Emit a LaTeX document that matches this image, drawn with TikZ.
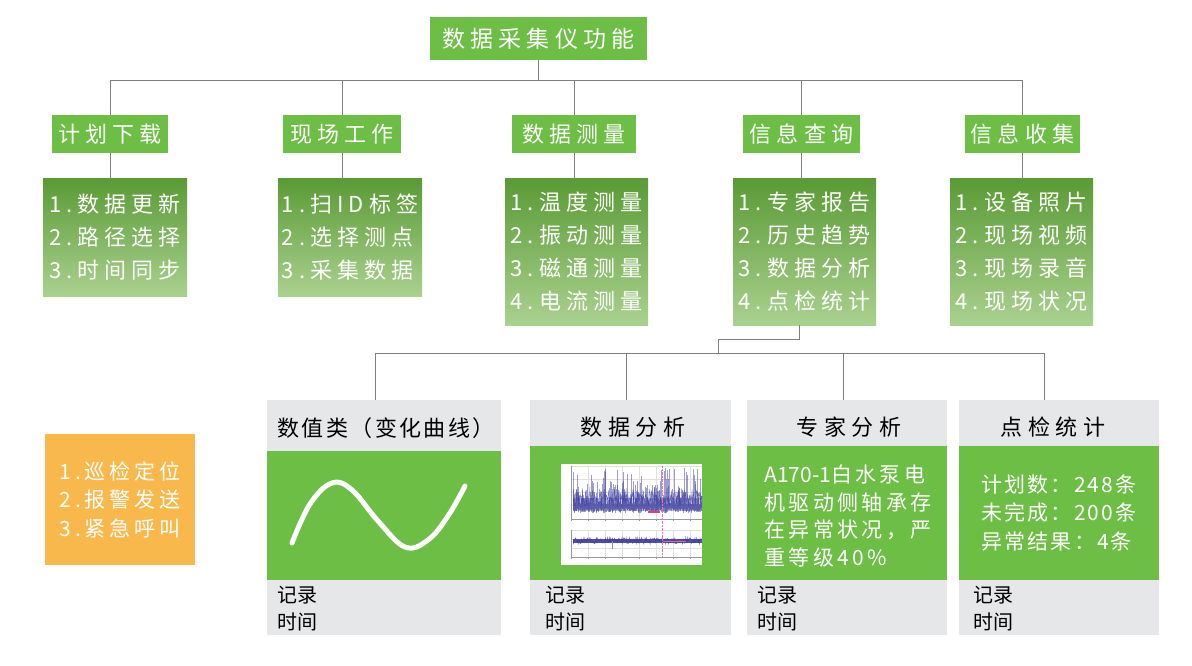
\documentclass[tikz,border=0pt]{standalone}
\usepackage{fontspec}
\setmainfont{Noto Sans CJK SC}
\newfontfamily\cjk{Noto Sans CJK SC}
\newcommand\track[1]{\addfontfeature{LetterSpace=#1}}
\definecolor{gMain}{HTML}{6DBE45}
\definecolor{gTop}{HTML}{5A9B35}
\definecolor{gMid}{HTML}{6DBB45}
\definecolor{gBot}{HTML}{AAD18F}
\definecolor{lineGray}{HTML}{7F7F7F}
\definecolor{cardGray}{HTML}{E6E7E8}
\definecolor{cardGreen}{HTML}{6DBE45}
\definecolor{alarmOrange}{HTML}{F9B84C}
\definecolor{plotBlue}{HTML}{3F3FA0}
\definecolor{plotRed}{HTML}{E0407A}
\begin{document}
\begin{tikzpicture}[x=1pt,y=-1pt,
  link/.style={draw=lineGray, line width=1pt},
  titlebox/.style={fill=gMain, text=white, inner sep=0pt,
    font=\cjk\track{23}\fontsize{23}{28}\selectfont},
  headbox/.style={fill=gMain, text=white, inner sep=0pt, minimum height=38pt,
    font=\cjk\track{23}\fontsize{22}{26}\selectfont},
  listbox/.style={top color=gTop, middle color=gMid, bottom color=gBot, text=white,
    inner sep=0pt, align=left, font=\cjk\track{23}\fontsize{22}{33}\selectfont},
  card/.style={fill=cardGray, inner sep=0pt},
  cardbody/.style={fill=cardGreen, inner sep=0pt},
  cardhead/.style={text=black, inner sep=0pt, font=\cjk\track{27}\fontsize{22}{26}\selectfont},
  cardtext/.style={text=white, inner sep=0pt, align=left},
  stamp/.style={text=black, inner sep=0pt, align=left, anchor=west,
    font=\cjk\fontsize{20}{27}\selectfont},
  grid line/.style={black!12, line width=0.3pt},
]
\useasboundingbox (0,0) rectangle (1192,666);
\fill[white] (0,0) rectangle (1192,666);

% ---- root and first level ----
\node[titlebox, minimum width=217pt, minimum height=43pt] (root) at (538.5,38.5) {数据采集仪功能};

\node[headbox, minimum width=116pt] (plan)    at (110,134)    {计划下载};
\node[headbox, minimum width=118pt] (site)    at (342,134)    {现场工作};
\node[headbox, minimum width=124pt] (meas)    at (574,134)    {数据测量};
\node[headbox, minimum width=117pt] (query)   at (801.5,134)  {信息查询};
\node[headbox, minimum width=115pt] (collect) at (1022.5,134) {信息收集};

% ---- item lists ----
\node[listbox, minimum width=144pt, minimum height=117pt] (planL) at (115,237.5)
  {1.数据更新\\2.路径选择\\3.时间同步};
\node[listbox, minimum width=144pt, minimum height=117pt] (siteL) at (350,237.5)
  {1.扫ID标签\\2.选择测点\\3.采集数据};
\node[listbox, minimum width=143pt, minimum height=146pt] (measL) at (576.5,252)
  {1.温度测量\\2.振动测量\\3.磁通测量\\4.电流测量};
\node[listbox, minimum width=143pt, minimum height=146pt] (queryL) at (804.5,252)
  {1.专家报告\\2.历史趋势\\3.数据分析\\4.点检统计};
\node[listbox, minimum width=143pt, minimum height=146pt] (collectL) at (1021.5,252)
  {1.设备照片\\2.现场视频\\3.现场录音\\4.现场状况};

% ---- upper connectors ----
\coordinate (bus) at (0,81);
\draw[link] (root.south) -- (root.south |- bus);
\draw[link] (plan.north |- bus) -- (collect.north |- bus);
\foreach \n in {plan,site,meas,query,collect}{
  \draw[link] (\n.north |- bus) -- (\n.north);
}
\foreach \n in {plan,site,meas,query,collect}{
  \draw[link] (\n.south) -- (\n.south |- \n L.north);
}

% ---- detail cards ----
\node[card, minimum width=234pt, minimum height=235pt] (card1) at (384,517.5) {};
\node[card, minimum width=201pt, minimum height=235pt] (card2) at (630.5,517.5) {};
\node[card, minimum width=200pt, minimum height=235pt] (card3) at (847,517.5) {};
\node[card, minimum width=200pt, minimum height=235pt] (card4) at (1059,517.5) {};

\node[cardbody, minimum width=234pt, minimum height=129pt] (body1) at (384,515.5) {};
\node[cardbody, minimum width=201pt, minimum height=134pt] (body2) at (630.5,513) {};
\node[cardbody, minimum width=200pt, minimum height=134pt] (body3) at (847,513) {};
\node[cardbody, minimum width=200pt, minimum height=134pt] (body4) at (1059,513) {};

\node[cardhead, font=\cjk\track{11}\fontsize{22}{26}\selectfont] (head1) at (386,428) {数值类（变化曲线）};
\node[cardhead] (head2) at (633,427) {数据分析};
\node[cardhead] (head3) at (849,427) {专家分析};
\node[cardhead] (head4) at (1053,427) {点检统计};

\node[stamp] (time1) at (277,608.5) {记录\\时间};
\node[stamp] (time2) at (545,608.5) {记录\\时间};
\node[stamp] (time3) at (757,608.5) {记录\\时间};
\node[stamp] (time4) at (973,608.5) {记录\\时间};

% value curve
\draw[white, line width=5pt, line cap=round]
  plot[smooth, tension=0.65] coordinates {(292,543) (310,504) (332,483) (352,490)
    (378,521) (405,547) (428,540) (448,516) (465,486)};

% analysis chart thumbnail
\node[fill=white, inner sep=0pt, minimum width=141pt, minimum height=101pt] (chart) at (631.5,514.5) {};
\begin{scope}
  \clip (chart.south west) rectangle (chart.north east);
  \foreach \gx in {571,588,...,702}{
    \draw[grid line] (\gx,466) -- (\gx,519);
    \draw[grid line] (\gx,530) -- (\gx,557);
  }
  \foreach \gy in {466,479,492,505,519}
    \draw[grid line] (571,\gy) -- (702,\gy);
  \foreach \gy in {530,539,548,557}
    \draw[grid line] (571,\gy) -- (702,\gy);
  \draw[black!40, line width=0.4pt] (571,466) -- (571,519) -- (702,519);
  \draw[black!40, line width=0.4pt] (571,530) -- (571,557) -- (702,557);
  % tick marks along the axes
  \foreach \gx in {571,588,...,702}{
    \draw[black!40, line width=0.3pt] (\gx,519) -- (\gx,521);
    \draw[black!40, line width=0.3pt] (\gx,557) -- (\gx,559);
  }
  \pgfmathsetseed{11}
  % vibration trace: dense strokes with upward spikes
  \foreach \i in {0,...,258}{
    \pgfmathsetmacro\px{573+\i*0.5}
    \pgfmathsetmacro\ylo{513-5*rnd}
    \pgfmathsetmacro\yhi{504-36*pow(rnd,2.4)}
    \draw[plotBlue, opacity=0.5, line width=0.5pt] (\px,\ylo) -- (\px,\yhi);
  }
  \fill[plotBlue, opacity=0.35] (573,498) rectangle (702,511);
  \draw[plotBlue, opacity=0.7, line width=0.4pt]
    plot[domain=573:702, samples=300] (\x,{503-12*pow(rnd,1.5)+5*rand});
  % trend trace below
  \fill[plotBlue, opacity=0.9] (573,538.5) rectangle (702,543);
  \draw[plotBlue, opacity=0.8, line width=0.6pt]
    plot[domain=573:702, samples=200] (\x,{540.7+3*rand});
  \draw[plotBlue!60, line width=0.6pt] (612,541) -- (612,549);
  \draw[plotRed!70, densely dotted, line width=0.4pt] (662,466) -- (662,557);
  \draw[plotRed, line width=1.2pt] (648,512) -- (660,512);
  \draw[plotRed!80, line width=0.8pt] (663,541) -- (686,541);
\end{scope}

% expert text and statistics
\node[cardtext, font=\cjk\track{16}\fontsize{21}{27.5}\selectfont] (txt3) at (848,516)
  {{\track{0}A170-1}白水泵电\\机驱动侧轴承存\\在异常状况，严\\重等级40\%};
\node[cardtext, font=\cjk\track{10}\fontsize{21}{28.5}\selectfont] (txt4) at (1059,513)
  {计划数：248条\\未完成：200条\\异常结果：4条};

% ---- lower connectors ----
\coordinate (bus2) at (718,353);
\draw[link] ([xshift=-5pt]queryL.south) -- ++(0,14) -| (bus2);
\draw[link] ([xshift=-9pt]card1.north |- bus2) -- ([xshift=-15pt]card4.north |- bus2);
\draw[link] ([xshift=-9pt]card1.north |- bus2) -- ([xshift=-9pt]card1.north);
\draw[link] ([xshift=-4.5pt]card2.north |- bus2) -- ([xshift=-4.5pt]card2.north);
\draw[link] ([xshift=-4pt]card3.north |- bus2) -- ([xshift=-4pt]card3.north);
\draw[link] ([xshift=-15pt]card4.north |- bus2) -- ([xshift=-15pt]card4.north);

% ---- alarm functions ----
\node[fill=alarmOrange, text=white, inner sep=0pt, minimum width=150pt, minimum height=131pt,
  align=left, font=\cjk\track{18}\fontsize{21}{28.5}\selectfont] (alarm) at (120,499.5)
  {1.巡检定位\\2.报警发送\\3.紧急呼叫};
\end{tikzpicture}
\end{document}
